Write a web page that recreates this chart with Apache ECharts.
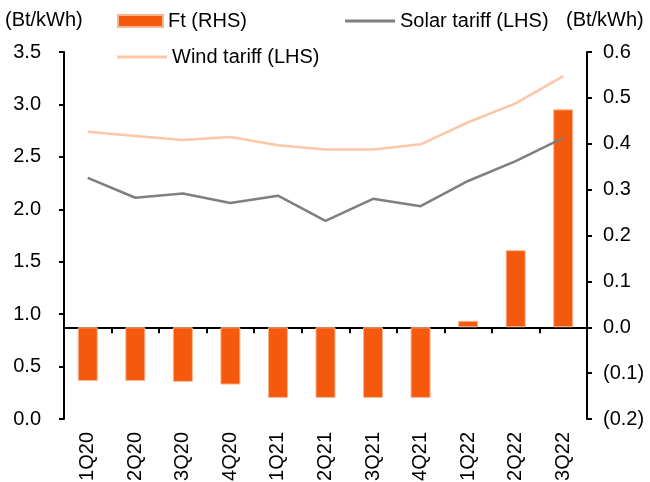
<!DOCTYPE html>
<html>
<head>
<meta charset="utf-8">
<title>Ft and tariffs</title>
<script src="https://cdn.jsdelivr.net/npm/echarts@6/dist/echarts.min.js"></script>
<style>
  html, body { margin: 0; padding: 0; background: #fff; }
  #chart-container { width: 650px; height: 482px; }
</style>
</head>
<body>
<div id="chart-container"></div>
<script>
// data
const quarters = ['1Q20', '2Q20', '3Q20', '4Q20', '1Q21', '2Q21', '3Q21', '4Q21', '1Q22', '2Q22', '3Q22'];
const ftValues = [-0.117, -0.117, -0.119, -0.125, -0.154, -0.154, -0.154, -0.154, 0.014, 0.168, 0.475];
const solarTariff = [2.30, 2.11, 2.15, 2.06, 2.13, 1.89, 2.10, 2.03, 2.27, 2.46, 2.68];
const windTariff = [2.74, 2.70, 2.66, 2.69, 2.61, 2.57, 2.57, 2.62, 2.83, 3.01, 3.27];
const leftTicks = { min: 0, max: 3.5, interval: 0.5 };
const rightTicks = { min: -0.2, max: 0.6, interval: 0.1 };

if (typeof echarts === 'undefined') {
  console.error('ECharts not loaded');
}

const FONT = '"Liberation Sans", Arial, sans-serif';
const chart = echarts.init(document.getElementById('chart-container'));

// right axis labels use brackets for negatives
function bracketFmt(v) {
  if (v < -1e-9) return '(' + Math.abs(v).toFixed(1) + ')';
  return Math.abs(v).toFixed(1);
}

const legendText = { fontFamily: FONT, fontSize: 20, color: '#000', lineHeight: 22 };

const option = {
  animation: false,
  backgroundColor: '#fff',
  grid: {
    left: 64,
    right: 63,
    top: 52,
    bottom: 63,
    containLabel: false,
    outerBoundsMode: 'none'
  },
  legend: [
    {
      data: ['Ft (RHS)'], left: 117, top: 10, padding: 0,
      icon: 'rect', itemWidth: 45, itemHeight: 12, textStyle: legendText
    },
    {
      data: ['Solar tariff (LHS)'], left: 345, top: 10, padding: 0,
      icon: 'rect', itemWidth: 50, itemHeight: 3, textStyle: legendText
    },
    {
      data: ['Wind tariff (LHS)'], left: 117, top: 46, padding: 0,
      icon: 'rect', itemWidth: 50, itemHeight: 3, textStyle: legendText
    }
  ],
  graphic: [
    {
      type: 'text', left: 5, top: 10,
      style: { text: '(Bt/kWh)', font: '20px ' + FONT, fill: '#000' }
    },
    {
      type: 'text', left: 566, top: 10,
      style: { text: '(Bt/kWh)', font: '20px ' + FONT, fill: '#000' }
    }
  ],
  xAxis: [
    {
      // zero line of the RHS axis with its ticks
      type: 'category',
      data: quarters,
      boundaryGap: true,
      axisLine: {
        show: true,
        onZero: true,
        onZeroAxisIndex: 1,
        lineStyle: { color: '#000', width: 2 }
      },
      axisTick: {
        show: true, inside: false, length: 6,
        lineStyle: { color: '#000', width: 2 }
      },
      axisLabel: { show: false },
      splitLine: { show: false }
    },
    {
      // labels only, at the bottom
      type: 'category',
      data: quarters,
      position: 'bottom',
      boundaryGap: true,
      axisLine: { show: false, onZero: false },
      axisTick: { show: false },
      axisLabel: {
        rotate: 90,
        margin: 13,
        interval: 0,
        fontFamily: FONT,
        fontSize: 20,
        color: '#000'
      },
      splitLine: { show: false }
    }
  ],
  yAxis: [
    {
      type: 'value',
      min: leftTicks.min,
      max: leftTicks.max,
      interval: leftTicks.interval,
      axisLine: { show: true, lineStyle: { color: '#000', width: 2 } },
      axisTick: { show: true, inside: false, length: 5, lineStyle: { color: '#000', width: 2 } },
      axisLabel: {
        margin: 23,
        fontFamily: FONT,
        fontSize: 20,
        color: '#000',
        formatter: v => v.toFixed(1)
      },
      splitLine: { show: false }
    },
    {
      type: 'value',
      position: 'right',
      min: rightTicks.min,
      max: rightTicks.max,
      interval: rightTicks.interval,
      axisLine: { show: true, lineStyle: { color: '#000', width: 2 } },
      axisTick: { show: true, inside: false, length: 5, lineStyle: { color: '#000', width: 2 } },
      axisLabel: {
        margin: 16,
        fontFamily: FONT,
        fontSize: 20,
        color: '#000',
        formatter: bracketFmt
      },
      splitLine: { show: false }
    }
  ],
  series: [
    {
      name: 'Ft (RHS)',
      type: 'bar',
      xAxisIndex: 0,
      yAxisIndex: 1,
      data: ftValues,
      barWidth: 20,
      itemStyle: { color: '#f4590e', borderColor: '#f9b48f', borderWidth: 1 },
      z: 2
    },
    {
      name: 'Solar tariff (LHS)',
      type: 'line',
      xAxisIndex: 0,
      yAxisIndex: 0,
      data: solarTariff,
      symbol: 'none',
      lineStyle: { color: '#7f7f7f', width: 2.5 },
      itemStyle: { color: '#7f7f7f' },
      z: 3
    },
    {
      name: 'Wind tariff (LHS)',
      type: 'line',
      xAxisIndex: 0,
      yAxisIndex: 0,
      data: windTariff,
      symbol: 'none',
      lineStyle: { color: '#fdc6a7', width: 2.5 },
      itemStyle: { color: '#fdc6a7' },
      z: 3
    }
  ]
};

chart.setOption(option);
</script>
</body>
</html>
